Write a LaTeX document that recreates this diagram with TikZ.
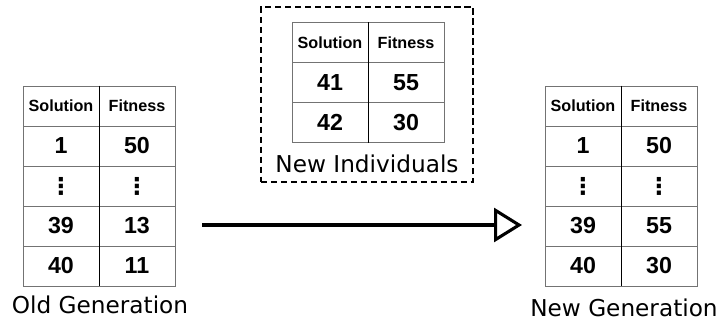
\documentclass[tikz,border=0pt]{standalone}
\usepackage{fontspec}
\setmainfont{DejaVu Sans}
\newfontfamily\tabfont{Liberation Sans}
\newfontfamily\dotfont{DejaVu Sans}
\usepackage{tikz}
\usetikzlibrary{arrows.meta,positioning}

\begin{document}
\begin{tikzpicture}[x=0.025cm, y=-0.025cm,
    cell/.style={rectangle, draw=black!55, line width=0.6pt, minimum width=1.9cm, minimum height=1cm, inner sep=0pt, font=\fontsize{16.5}{18}\tabfont\bfseries},
    head/.style={cell, font=\fontsize{11.5}{13}\tabfont\bfseries},
    divider/.style={line width=1.1pt, black},
    caption/.style={font=\fontsize{16.5}{19}\selectfont, anchor=base, inner sep=0pt},
    dashbox/.style={rectangle, draw, dashed, line width=1.3pt, dash pattern=on 4.5pt off 2.6pt, minimum width=5.3cm, minimum height=4.375cm}
]
    \useasboundingbox (0,0) rectangle (721,320);
    \newcommand{\vdotsb}{{\dotfont\bfseries ⋮}}

    % Old generation table
    \node[head] (ohs) at (61,106) {Solution};
    \node[head] (ohf) at (137,106) {Fitness};
    \node[cell] (o1s) at (61,146) {1};
    \node[cell] (o1f) at (137,146) {50};
    \node[cell] (o2s) at (61,186) {\vdotsb};
    \node[cell] (o2f) at (137,186) {\vdotsb};
    \node[cell] (o3s) at (61,226) {39};
    \node[cell] (o3f) at (137,226) {13};
    \node[cell] (o4s) at (61,266) {40};
    \node[cell] (o4f) at (137,266) {11};
    \draw[divider] (ohs.north east) -- (o4s.south east);
    \node[caption] (old) at (100,313) {Old Generation};

    % New individuals
    \node[dashbox] (nbox) at (367,94.5) {};
    \node[head] (nhs) at (330,42.5) {Solution};
    \node[head] (nhf) at (406,42.5) {Fitness};
    \node[cell] (n1s) at (330,82.5) {41};
    \node[cell] (n1f) at (406,82.5) {55};
    \node[cell] (n2s) at (330,122.5) {42};
    \node[cell] (n2f) at (406,122.5) {30};
    \draw[divider] (nhs.north east) -- (n2s.south east);
    \node[caption] (ind) at (367,173) {New Individuals};

    % New generation table
    \node[head] (ghs) at (583,106) {Solution};
    \node[head] (ghf) at (659,106) {Fitness};
    \node[cell] (g1s) at (583,146) {1};
    \node[cell] (g1f) at (659,146) {50};
    \node[cell] (g2s) at (583,186) {\vdotsb};
    \node[cell] (g2f) at (659,186) {\vdotsb};
    \node[cell] (g3s) at (583,226) {39};
    \node[cell] (g3f) at (659,226) {55};
    \node[cell] (g4s) at (583,266) {40};
    \node[cell] (g4f) at (659,266) {30};
    \draw[divider] (ghs.north east) -- (g4s.south east);
    \node[caption] (new) at (624,316) {New Generation};

    % Replacement step
    \coordinate (from) at (202,225);
    \coordinate (to) at (522,225);
    \draw[line width=2.2pt, -{Triangle[open, length=0.7cm, width=0.85cm]}] (from) -- (to);
\end{tikzpicture}
\end{document}
